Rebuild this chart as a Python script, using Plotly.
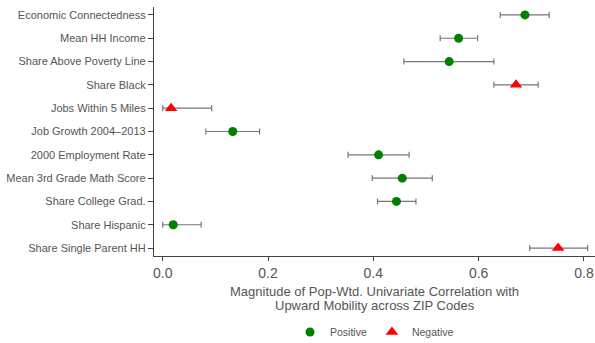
import plotly.graph_objects as go

# Covariates, listed top to bottom
variables = [
    "Economic Connectedness",
    "Mean HH Income",
    "Share Above Poverty Line",
    "Share Black",
    "Jobs Within 5 Miles",
    "Job Growth 2004\u20132013",
    "2000 Employment Rate",
    "Mean 3rd Grade Math Score",
    "Share College Grad.",
    "Share Hispanic",
    "Share Single Parent HH",
]
# Magnitude of the correlation and its confidence interval
magnitude = [0.688, 0.562, 0.544, 0.671, 0.016, 0.133, 0.410, 0.455, 0.444, 0.020, 0.751]
ci_low = [0.641, 0.527, 0.458, 0.629, 0.000, 0.082, 0.352, 0.398, 0.408, 0.000, 0.697]
ci_high = [0.734, 0.598, 0.629, 0.713, 0.093, 0.184, 0.468, 0.512, 0.481, 0.073, 0.807]
# Sign of the underlying correlation
sign = ["Positive", "Positive", "Positive", "Negative", "Negative", "Positive",
        "Positive", "Positive", "Positive", "Positive", "Negative"]

x_title = ["Magnitude of Pop-Wtd. Univariate Correlation with",
           "Upward Mobility across ZIP Codes"]

FONT = "Liberation Sans, Arial, Helvetica, sans-serif"
TEXT = "#555555"
AXIS = "#444444"

styles = {
    "Positive": dict(symbol="circle", size=9, color="#008000"),
    "Negative": dict(symbol="triangle-up", size=11, color="#ff0000"),
}

fig = go.Figure()
for s in ["Positive", "Negative"]:
    idx = [i for i, v in enumerate(sign) if v == s]
    fig.add_trace(go.Scatter(
        x=[magnitude[i] for i in idx],
        y=[variables[i] for i in idx],
        mode="markers",
        name=s,
        marker=dict(symbol=styles[s]["symbol"], size=styles[s]["size"],
                    color=styles[s]["color"], line=dict(width=0)),
        error_x=dict(
            type="data", symmetric=False,
            array=[ci_high[i] - magnitude[i] for i in idx],
            arrayminus=[magnitude[i] - ci_low[i] for i in idx],
            color="#777777", thickness=1.2, width=3,
        ),
    ))

# Two-line x-axis title, set tight under the tick labels
for line, ypos in zip(x_title, [-0.143, -0.197]):
    fig.add_annotation(text=line, xref="paper", yref="paper", x=0.5, y=ypos,
                       xanchor="center", yanchor="middle", showarrow=False,
                       font=dict(size=13, color=TEXT, family=FONT))

fig.update_layout(
    width=595, height=343,
    margin=dict(l=154, r=0, t=7, b=87, autoexpand=False),
    paper_bgcolor="white", plot_bgcolor="white",
    font=dict(family=FONT, color=TEXT),
    showlegend=True,
    legend=dict(orientation="h", x=0.5, xanchor="center",
                yref="container", y=0.032, yanchor="middle",
                font=dict(size=10.5, color=TEXT), itemwidth=30),
    xaxis=dict(
        range=[-0.0165, 0.821],
        tickvals=[0, 0.2, 0.4, 0.6, 0.8],
        ticktext=["0.0", "0.2", "0.4", "0.6", "0.8"],
        showgrid=False, zeroline=False,
        showline=True, linecolor=AXIS, linewidth=1.3,
        ticks="outside", ticklen=4, tickcolor=AXIS,
        tickfont=dict(size=14, color=TEXT),
    ),
    yaxis=dict(
        type="category",
        categoryorder="array", categoryarray=variables,
        range=[10.34, -0.34],
        showgrid=False, zeroline=False,
        showline=True, linecolor=AXIS, linewidth=1.3,
        ticks="outside", ticklen=5, tickcolor=AXIS,
        tickfont=dict(size=11, color=TEXT),
    ),
)

fig.write_html("out.html")
